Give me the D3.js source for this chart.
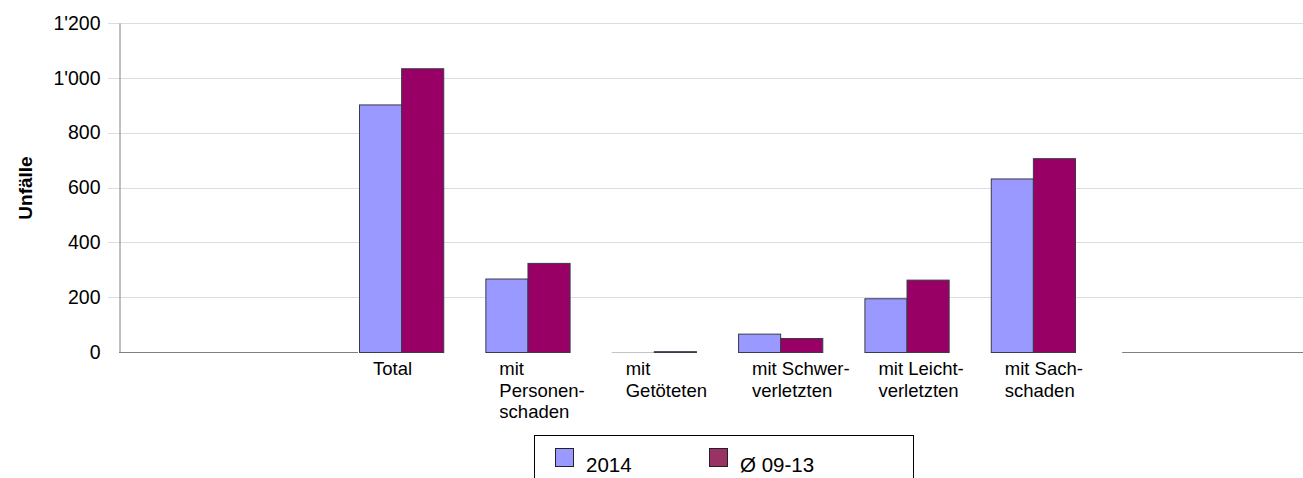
<!DOCTYPE html>
<html>
<head>
<meta charset="utf-8">
<script src="https://cdn.jsdelivr.net/npm/d3@7"></script>
<style>
  body { margin: 0; background: #fff; }
  svg { display: block; font-family: "Liberation Sans", Arial, sans-serif; }
</style>
</head>
<body>
<svg id="chart" width="1303" height="478"></svg>
<script>
// Kategorien und Werte
var categories = ["Total", "mit Personenschaden", "mit Getöteten", "mit Schwerverletzten", "mit Leichtverletzten", "mit Sachschaden"];
var categoryLines = [["Total"], ["mit", "Personen-", "schaden"], ["mit", "Getöteten"], ["mit Schwer-", "verletzten"], ["mit Leicht-", "verletzten"], ["mit Sach-", "schaden"]];
var seriesNames = ["2014", "Ø 09-13"];
var values2014 = [903, 268, 0, 67, 196, 633];
var valuesAvg = [1035, 325, 3, 51, 264, 707];
var yTicks = [0, 200, 400, 600, 800, 1000, 1200];

var barColors = ["#9999ff", "#990066"];
var legendColors = ["#9999ff", "#993366"];

var svg = d3.select("#chart");

var y = d3.scaleLinear().domain([0, 1200]).range([352, 23]);
var x = d3.scaleBand().domain(categories).range([359, 1075]).paddingInner(1 / 3).paddingOuter(0);
var x1 = d3.scaleBand().domain(seriesNames).range([0, x.bandwidth()]);

var fmt = d3.formatLocale({ decimal: ".", thousands: "'", grouping: [3], currency: ["", ""] }).format(",d");

// gitternetz
svg.append("g").selectAll("line").data(yTicks.slice(1)).enter().append("line")
    .attr("x1", 108).attr("x2", 1303)
    .attr("y1", function (d) { return Math.round(y(d)) + 0.5; })
    .attr("y2", function (d) { return Math.round(y(d)) + 0.5; })
    .attr("stroke", "#dcdce6").attr("stroke-width", 1);

// y achse
var yAxis = d3.axisLeft(y).tickValues(yTicks).tickFormat(fmt).tickSize(0).tickPadding(19);
var gy = svg.append("g").attr("transform", "translate(119.5,0)").call(yAxis);
gy.select(".domain").attr("stroke", "#808080");
gy.selectAll("text").attr("font-size", 19.5).attr("fill", "#000")
    .attr("font-family", "'Liberation Sans', Arial, sans-serif");

// x achse
svg.append("line")
    .attr("x1", 119).attr("x2", 1303)
    .attr("y1", y(0) + 0.5).attr("y2", y(0) + 0.5)
    .attr("stroke", "#808080");

// weisse fläche unter den labels
svg.append("rect")
    .attr("x", x(categories[0]) - 1)
    .attr("y", y(0) - 1)
    .attr("width", x.step() * categories.length + 6)
    .attr("height", 80)
    .attr("fill", "#fff");

// balken
var rows = categories.map(function (c, i) {
    return { cat: c, vals: [values2014[i], valuesAvg[i]] };
});

var groups = svg.append("g").selectAll("g").data(rows).enter().append("g")
    .attr("transform", function (d) { return "translate(" + x(d.cat) + ",0)"; });

groups.selectAll("rect").data(function (d) {
    return d.vals.map(function (v, j) { return { name: seriesNames[j], v: v, j: j }; });
}).enter().append("rect")
    .attr("x", function (d) { return x1(d.name) + 0.5; })
    .attr("y", function (d) { return y(d.v) + 0.5; })
    .attr("width", x1.bandwidth())
    .attr("height", function (d) { return Math.max(0.01, y(0) - y(d.v)); })
    .attr("fill", function (d) { return barColors[d.j]; })
    .attr("stroke", function (d) { return d.v === 0 ? "#c4c4c4" : "#3a3a4a"; })
    .attr("stroke-width", 1);

// kategorie labels
var labels = svg.append("g").selectAll("text").data(categories).enter().append("text")
    .attr("x", function (d) { return x(d) + 14; })
    .attr("y", 375)
    .attr("font-size", 18.5)
    .attr("fill", "#000");

labels.each(function (d, i) {
    var t = d3.select(this);
    categoryLines[i].forEach(function (line, k) {
        t.append("tspan").attr("x", x(d) + 14).attr("dy", k === 0 ? 0 : 21.5).text(line);
    });
});

// achsentitel
svg.append("text")
    .attr("transform", "translate(32,188) rotate(-90)")
    .attr("text-anchor", "middle")
    .attr("font-size", 19)
    .attr("font-weight", "bold")
    .text("Unfälle");

// legende
svg.append("rect")
    .attr("x", 534.5).attr("y", 435.5)
    .attr("width", 379).attr("height", 60)
    .attr("fill", "#fff").attr("stroke", "#000");

var legendX = [555, 709];
var leg = svg.append("g").selectAll("g").data(seriesNames).enter().append("g")
    .attr("transform", function (d, i) { return "translate(" + legendX[i] + ",0)"; });

leg.append("rect")
    .attr("x", 0.5).attr("y", 448.5)
    .attr("width", 18).attr("height", 18)
    .attr("fill", function (d, i) { return legendColors[i]; })
    .attr("stroke", "#222");

leg.append("text")
    .attr("x", 31).attr("y", 472)
    .attr("font-size", 20.5)
    .text(function (d) { return d; });
</script>
</body>
</html>
